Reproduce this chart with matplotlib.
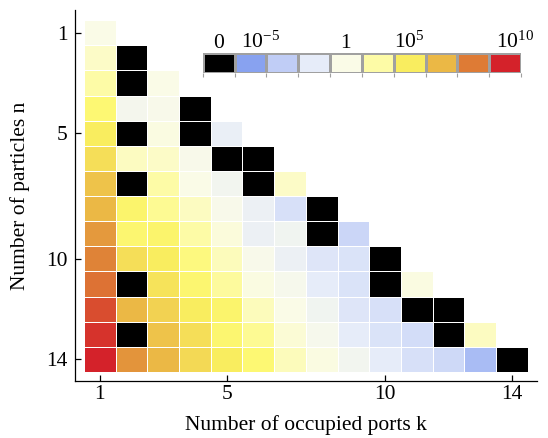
import numpy as np
import matplotlib
matplotlib.use('Agg')
import matplotlib.pyplot as plt
from matplotlib.colors import LinearSegmentedColormap

plt.rcParams['font.family'] = ['Liberation Serif', 'DejaVu Serif']
plt.rcParams['mathtext.fontset'] = 'custom'
plt.rcParams['mathtext.rm'] = 'Liberation Serif'
plt.rcParams['mathtext.it'] = 'Liberation Serif:italic'

# ---------------- data ----------------
# log10 of each matrix entry; row n holds k = 1..n ; None = exactly zero (black)
log10_rows = [
    [0.0],
    [1.25, None],
    [2.5, None, 0.0],
    [3.75, -0.75, -0.25, None],
    [5.0, None, 0.25, None, -2.0],
    [5.75, 1.5, 1.25, -0.25, None, None],
    [7.0, None, 2.5, 0.0, -1.0, None, 1.25],
    [7.5, 4.25, 3.0, 1.5, -0.25, -1.75, -3.5, None],
    [8.75, 4.0, 4.25, 2.5, 0.5, -1.75, -1.25, None, -4.25],
    [9.75, 5.75, 5.0, 3.5, 1.75, -0.25, -1.75, -3.0, -3.25, None],
    [10.25, None, 5.5, 4.0, 2.75, 0.25, -0.5, -2.5, -3.25, None, 0.25],
    [11.25, 7.5, 6.25, 5.0, 4.25, 1.75, 0.0, -1.25, -3.0, -3.5, None, None],
    [12.0, None, 7.0, 5.75, 4.0, 3.0, 0.75, -0.5, -2.5, -3.25, -3.75, None, 1.5],
    [12.5, 9.0, 7.5, 6.0, 5.0, 3.75, 1.75, 0.25, -1.0, -2.5, -3.5, -4.0, -6.0, None],
]
n_ticks = [1, 5, 10, 14]
k_ticks = [1, 5, 10, 14]

# colour legend: box colours and their log10 levels
legend_colors = ['#88A2F0', '#C0CDF6', '#E6ECF9', '#FAFBE8', '#FDFBA8',
                 '#F9EE60', '#EBB945', '#DE7D35', '#D4222A']
legend_levels = [-7.5, -5.0, -2.5, 0.0, 2.5, 5.0, 7.5, 10.0, 12.5]
legend_labels = ['0', r'$10^{-5}$', '1', r'$10^{5}$', r'$10^{10}$']
legend_label_pos = [0.5, 1.83, 4.5, 6.5, 9.8]
# extra gradient stop (bright lemon yellow between the two yellow boxes)
extra_colors = ['#FDF874']
extra_levels = [3.75]

# ---------------- build ----------------
vmin, vmax = legend_levels[0], legend_levels[-1]
stops = sorted(zip(legend_levels + extra_levels, legend_colors + extra_colors))
cmap = LinearSegmentedColormap.from_list(
    'bwyr', [((lv - vmin) / (vmax - vmin), c) for lv, c in stops])
cmap.set_under('black')
cmap.set_bad((1, 1, 1, 0))

N = len(log10_rows)
Z = np.full((N, N), np.nan)
for i, row in enumerate(log10_rows):
    for j, v in enumerate(row):
        Z[i, j] = vmin - 100 if v is None else v
Z = np.ma.masked_invalid(Z)

fig = plt.figure(figsize=(5.48, 4.38), dpi=100)
ax = fig.add_axes([0.1363, 0.1301, 0.8437, 0.8469])
edges = np.arange(N + 1) + 0.5
ax.pcolormesh(edges, edges, Z, cmap=cmap, vmin=vmin, vmax=vmax,
              edgecolors='white', linewidth=0.6)
ax.set_xlim(0.21, 14.79)
ax.set_ylim(14.86, 0.10)
for s in ['top', 'right']:
    ax.spines[s].set_visible(False)
for s in ['left', 'bottom']:
    ax.spines[s].set_linewidth(0.9)
ax.set_xticks(k_ticks)
ax.set_yticks(n_ticks)
ax.tick_params(direction='in', length=4.5, width=0.9, labelsize=15.5)
ax.tick_params(axis='x', pad=3)
ax.tick_params(axis='y', pad=5)
ax.set_xlabel('Number of occupied ports k', fontsize=15.5, labelpad=8)
ax.set_ylabel('Number of particles n', fontsize=15.5, labelpad=12)

# legend bar
cax = fig.add_axes([0.3699, 0.8333, 0.5808, 0.0457])
legend_vals = np.array([[vmin - 100] + legend_levels])
cax.pcolormesh(np.arange(len(legend_levels) + 2), [0, 1], legend_vals, cmap=cmap,
               vmin=vmin, vmax=vmax, edgecolors='#a0a0a0', linewidth=0.9)
cax.set_xlim(0, len(legend_levels) + 1)
cax.set_ylim(0, 1)
for s in cax.spines.values():
    s.set_visible(False)
cax.set_yticks([])
cax.set_xticks(np.arange(len(legend_levels) + 2))
cax.set_xticklabels([])
cax.tick_params(axis='x', direction='out', length=3, width=0.8, color='#a0a0a0')
for lab, pos in zip(legend_labels, legend_label_pos):
    cax.text(pos, 1.25, lab, ha='center', va='baseline', fontsize=15.5)

fig.savefig('out.png', dpi=100)
